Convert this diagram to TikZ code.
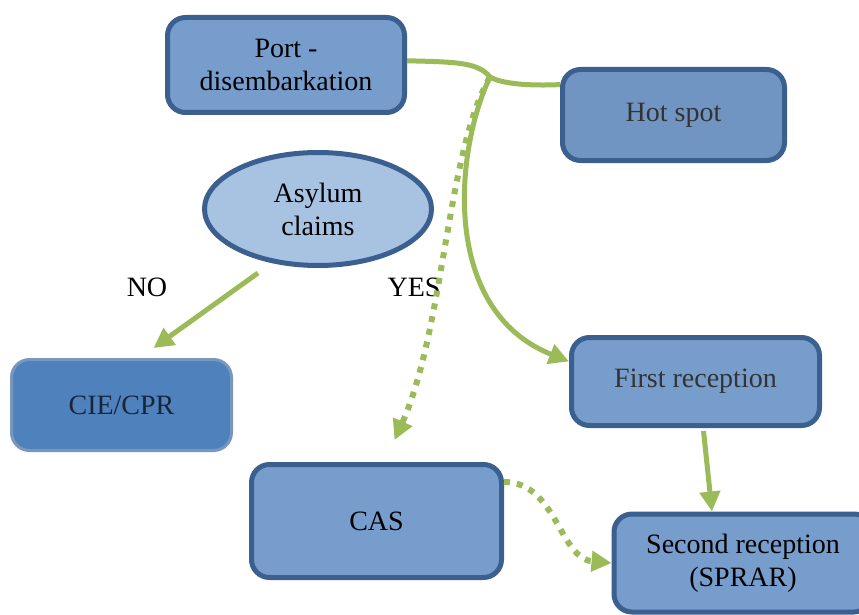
\documentclass[tikz,border=0pt]{standalone}
\usepackage{fontspec}
\setmainfont{Liberation Serif}
\usetikzlibrary{shapes}
\usetikzlibrary{arrows.meta}
\definecolor{bleu}{HTML}{779DCC}
\definecolor{bleuc}{HTML}{A8C2E2}
\definecolor{bleuf}{HTML}{4F81BD}
\definecolor{bord}{HTML}{3B5F8E}
\definecolor{vert}{HTML}{9BBB59}
\tikzset{
	noeud/.style = {align=center, inner sep=0pt, text centered,
		font=\fontsize{28}{33}\selectfont},
	boite/.style = {noeud, rectangle, rounded corners=18pt, draw=bord,
		fill=bleu, line width=5pt},% boite bleue
	boite_f/.style = {noeud, rectangle, rounded corners=18pt, draw=bleu!80!gray,
		fill=bleuf, line width=3pt, text=bord!40!black},% boite foncee
	bulle/.style = {noeud, ellipse, draw=bord, fill=bleuc,
		line width=5pt},% question
	lien/.style = {vert, line width=5pt},
	lien_p/.style = {lien, line width=6pt, dash pattern=on 6pt off 7pt}% lien pointille
}
\begin{document}
\begin{tikzpicture}[x=1pt,y=-1pt,>={Triangle[length=20pt,width=20pt]}]
	\useasboundingbox (0,0) rectangle (859,615);
	\node[boite, minimum width=237pt, minimum height=95pt] (port) at (286,65) {Port -\\disembarkation};
	\node[boite, fill=bleu!95!black, text=black!80, minimum width=222pt, minimum height=91pt] (hot) at (673.5,115) {Hot spot};
	\node[bulle, minimum width=227pt, minimum height=113pt] (ask) at (318,209) {Asylum\\claims};
	\node[boite_f, minimum width=220pt, minimum height=91pt] (cie) at (121.5,405) {CIE/CPR};
	\node[boite, minimum width=250pt, minimum height=113pt] (cas) at (376.5,521) {CAS};
	\node[boite, text=black!80, minimum width=248pt, minimum height=88pt] (first) at (695.5,381.5) {First reception};
	\node[boite, minimum width=258pt, minimum height=98pt] (sec) at (743,563) {Second reception\\(SPRAR)};
	\node[noeud] (no) at (147,287) {NO};
	\node[noeud] (yes) at (414,287) {YES};
	\coordinate (saut) at (490,77);

	\draw[lien] (port.2) .. controls (455,62) and (478,62) .. (saut)
		.. controls (502,84) and (530,86) .. (hot.165);
	\draw[lien,->] (saut) .. controls (455,150) and (440,310) .. (first.171);
	\draw[lien_p,->] (saut) .. controls (447,150) and (444,330) .. ([xshift=18pt,yshift=22pt]cas.north);
	\draw[lien,->] ([xshift=-60pt,yshift=-5pt]ask.south) -- ([xshift=32pt,yshift=10pt]cie.north);
	\draw[lien,->] ([xshift=8pt,yshift=-3pt]first.south) -- ([xshift=-31pt]sec.north);
	\draw[lien_p,->] (cas.17) to[out=0,in=175] (sec.west);
\end{tikzpicture}
\end{document}
